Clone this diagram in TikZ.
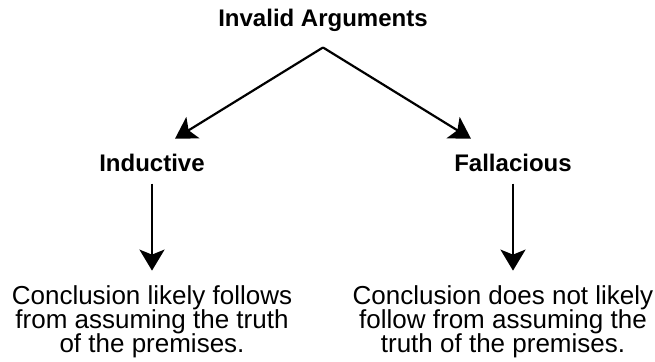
\documentclass[tikz,border=0pt]{standalone}
\usepackage{fontspec}
\setmainfont{Liberation Sans}
\usepackage{tikz}
\usetikzlibrary{arrows.meta, positioning}
\newcommand{\notefont}{\fontsize{13}{11.85}\selectfont\lineskiplimit=-20pt\relax}

\begin{document}
\begin{tikzpicture}[
  x=0.5pt, y=0.5pt,
  heading/.style={inner sep=0pt, anchor=base,
    font=\fontsize{12}{14}\selectfont\bfseries},
  note/.style={inner sep=0pt, align=center, font=\notefont},
  arr/.style={-{Stealth[length=10.5pt, width=12.5pt, inset=2.5pt]},
    line width=1.1pt, color=black}
]
  \useasboundingbox (0,0) rectangle (655,362);

  \node[heading] (title) at (323,335) {Invalid Arguments};
  \coordinate[below=7.5pt of title] (fork);

  \node[heading] (ind) at (152,190) {Inductive};
  \node[heading] (fall) at (513,190) {Fallacious};
  \coordinate[above right=7.75pt and 11.5pt of ind.north] (indtip);
  \coordinate[above left=7.75pt and 21pt of fall.north] (falltip);

  \node[note, below=56.5pt of ind] (indnote)
    {Conclusion likely follows\\from assuming the truth\\of the premises.};
  \node[note, below=56.5pt of fall, xshift=-5pt] (fallnote)
    {Conclusion does not likely\\follow from assuming the\\truth of the premises.};

  \draw[arr] (fork) -- (indtip);
  \draw[arr] (fork) -- (falltip);
  \draw[arr, shorten <=5.5pt, shorten >=7.5pt] (ind.south) -- (ind.south |- indnote.north);
  \draw[arr, shorten <=5.5pt, shorten >=7.5pt] (fall.south) -- (fall.south |- fallnote.north);
\end{tikzpicture}
\end{document}
